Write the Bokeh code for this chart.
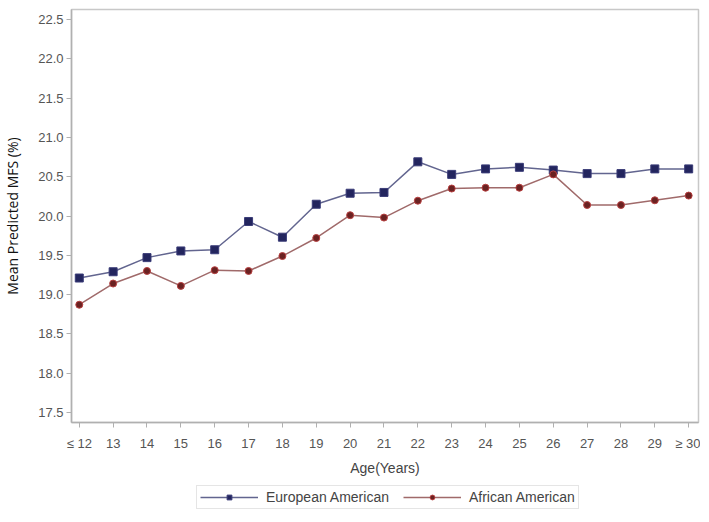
from bokeh.plotting import figure
from bokeh.models import Range1d, FixedTicker, Legend, LegendItem
from bokeh.layouts import column
from bokeh.embed import file_html
from bokeh.resources import INLINE

ages = ["≤ 12", "13", "14", "15", "16", "17", "18", "19", "20", "21", "22",
        "23", "24", "25", "26", "27", "28", "29", "≥ 30"]
european = [19.21, 19.29, 19.47, 19.555, 19.57, 19.93, 19.73, 20.15, 20.29, 20.30,
            20.69, 20.53, 20.60, 20.62, 20.585, 20.54, 20.54, 20.60, 20.60]
african = [18.87, 19.14, 19.30, 19.11, 19.31, 19.30, 19.49, 19.72, 20.01, 19.98,
           20.195, 20.35, 20.36, 20.36, 20.53, 20.14, 20.14, 20.20, 20.26]
y_ticks = [17.5, 18.0, 18.5, 19.0, 19.5, 20.0, 20.5, 21.0, 21.5, 22.0, 22.5]
series_names = ["European American", "African American"]

xs = list(range(len(ages)))

EU_LINE, EU_FILL, EU_EDGE = "#62658f", "#23255e", "#3a3c78"
AA_LINE, AA_FILL, AA_EDGE = "#a06a6a", "#6a2222", "#b84040"

p = figure(width=700, height=484, output_backend="svg", toolbar_location=None,
           x_range=Range1d(-0.23, 18.29), y_range=Range1d(17.37, 22.63),
           min_border_left=71, min_border_top=9, min_border_right=2, min_border_bottom=62)

p.xgrid.visible = False
p.ygrid.visible = False
p.outline_line_color = "#c8c8c8"
p.outline_line_width = 1.5

p.xaxis.ticker = FixedTicker(ticks=xs)
p.xaxis.major_label_overrides = {i: a for i, a in enumerate(ages)}
p.yaxis.ticker = FixedTicker(ticks=y_ticks)
p.yaxis.major_label_overrides = {t: f"{t:.1f}" for t in y_ticks}

for ax in (p.xaxis[0], p.yaxis[0]):
    ax.axis_line_color = "#b0b0b0"
    ax.axis_line_width = 1.5
    ax.major_tick_line_color = "#b0b0b0"
    ax.major_tick_out = 5
    ax.major_tick_in = 0
    ax.minor_tick_line_color = None
    ax.major_label_text_color = "#555555"
    ax.major_label_text_font = "Liberation Sans"
    ax.major_label_text_font_size = "13px"

p.xaxis.major_label_standoff = 8
p.yaxis.major_label_standoff = 3
p.xaxis.axis_label = "Age(Years)"
p.xaxis.axis_label_text_font = "Liberation Sans"
p.xaxis.axis_label_text_font_size = "14px"
p.xaxis.axis_label_text_font_style = "normal"
p.xaxis.axis_label_text_color = "#444444"
p.xaxis.axis_label_standoff = 6

p.yaxis.axis_label = "Mean Predicted MFS (%)"
p.yaxis.axis_label_text_font = "Open Sans"
p.yaxis.axis_label_text_font_size = "14px"
p.yaxis.axis_label_text_font_style = "normal"
p.yaxis.axis_label_text_color = "#111111"
p.yaxis.axis_label_text_line_height = 0.8
p.yaxis.axis_label_standoff = 13

p.line(xs, european, line_color=EU_LINE, line_width=1.5)
p.scatter(xs, european, marker="square", size=8, fill_color=EU_FILL,
          line_color=EU_EDGE, line_width=1)
p.line(xs, african, line_color=AA_LINE, line_width=1.5)
p.scatter(xs, african, marker="circle", size=7, fill_color=AA_FILL,
          line_color=AA_EDGE, line_width=1)

# legend strip below the chart (legend-only renderers sit outside the visible range)
q = figure(width=700, height=36, output_backend="svg", toolbar_location=None,
           x_range=Range1d(0, 1), y_range=Range1d(0, 1),
           min_border_left=0, min_border_right=0, min_border_top=0, min_border_bottom=0)
q.axis.visible = False
q.grid.visible = False
q.outline_line_color = None
off = [-5, -4]
r1 = q.line(off, off, line_color=EU_LINE, line_width=1.5)
s1 = q.scatter(off, off, marker="square", size=8, fill_color=EU_FILL, line_color=EU_EDGE)
r2 = q.line(off, off, line_color=AA_LINE, line_width=1.5)
s2 = q.scatter(off, off, marker="circle", size=7, fill_color=AA_FILL, line_color=AA_EDGE)

legend = Legend(items=[LegendItem(label=series_names[0], renderers=[r1, s1]),
                       LegendItem(label=series_names[1], renderers=[r2, s2])],
                orientation="horizontal", location=(125, 11))
legend.border_line_color = "#cccccc"
legend.border_line_width = 1
legend.label_text_font = "Liberation Sans"
legend.label_text_font_size = "14px"
legend.label_text_color = "#444444"
legend.label_text_line_height = 1.0
legend.glyph_width = 58
legend.glyph_height = 12
legend.label_height = 12
legend.label_standoff = 8
legend.spacing = 14
legend.padding = 3
legend.margin = 0
legend.background_fill_alpha = 1.0
q.add_layout(legend, "center")

layout = column(p, q, spacing=0)
open("out.html", "w").write(file_html(layout, INLINE))
